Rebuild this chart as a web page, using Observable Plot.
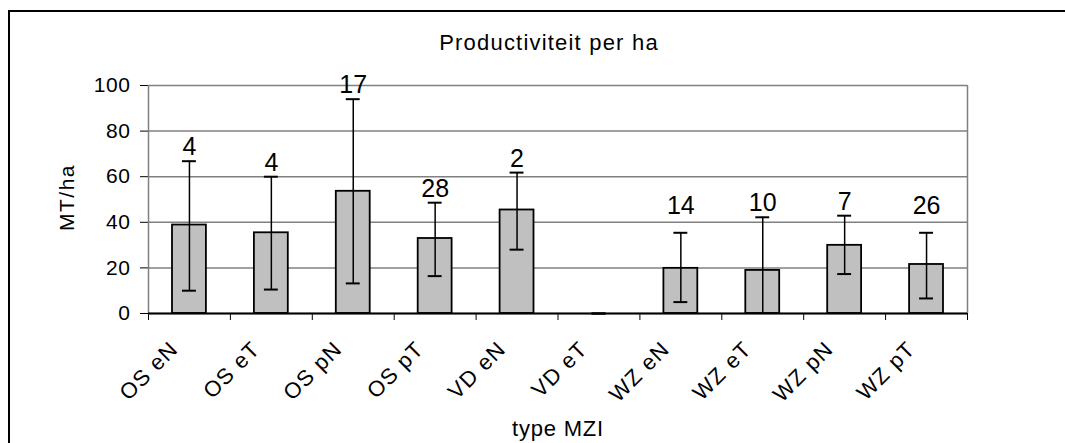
<!DOCTYPE html>
<html>
<head>
<meta charset="utf-8">
<script src="https://cdn.jsdelivr.net/npm/d3@7"></script>
<script src="https://cdn.jsdelivr.net/npm/@observablehq/plot@0.6"></script>
<style>
  html, body { margin: 0; padding: 0; background: #fff; overflow: hidden; }
  #wrap { position: relative; width: 1065px; height: 443px; }
  #chart { position: absolute; left: 0; top: 0; }
  #border { position: absolute; left: 8px; top: 10px; width: 1200px; height: 600px;
            border-left: 2px solid #000; border-top: 2px solid #000; pointer-events: none; }
</style>
</head>
<body>
<div id="wrap"><div id="chart"></div><div id="border"></div></div>
<script>
// ---- data ----
const categories = ["OS eN", "OS eT", "OS pN", "OS pT", "VD eN", "VD eT", "WZ eN", "WZ eT", "WZ pN", "WZ pT"];
const means      = [38.8, 35.4, 53.6, 32.9, 45.4, 0, 19.8, 18.9, 29.9, 21.5];
const errHigh    = [66.8, 60.0, 94.0, 48.6, 61.8, 0, 35.4, 42.2, 42.9, 35.4];
const errLow     = [10.0, 10.5, 13.2, 16.4, 28.0, 0, 5.0, -4.4, 17.3, 6.6];
const counts     = ["4", "4", "17", "28", "2", "", "14", "10", "7", "26"];
const yTicks     = [0, 20, 40, 60, 80, 100];
const titleText  = "Productiviteit per ha";
const xLabel     = "type MZI";
const yLabel     = "MT/ha";

const rows = categories.map((c, i) => ({cat: c, i, mean: means[i], hi: errHigh[i], lo: errLow[i], n: counts[i]}));
const caps = [];
rows.forEach(d => {
  caps.push({i: d.i, v: d.hi});
  if (d.lo >= 0) caps.push({i: d.i, v: d.lo});
});

const capHalf = 0.085;
const font = "'Liberation Sans', Arial, sans-serif";

const svg = Plot.plot({
  width: 1065,
  height: 443,
  marginLeft: 148,
  marginRight: 98,
  marginTop: 85,
  marginBottom: 130,
  style: {fontFamily: font, fontSize: "21px", background: "transparent", color: "#000"},
  x: {domain: [0, categories.length], ticks: d3.range(categories.length + 1), tickSize: 7,
      tickFormat: () => "", label: null},
  y: {domain: [0, 100], ticks: yTicks, tickSize: 8, tickPadding: 10, label: null},
  marks: [
    Plot.ruleY(yTicks, {y: d => d, stroke: "#808080", strokeWidth: 1.5}),
    Plot.ruleX([0, categories.length], {x: d => d, stroke: "#808080", strokeWidth: 1.5}),
    Plot.rect(rows.filter(d => d.mean > 0), {
      x1: d => d.i, x2: d => d.i + 1, y1: () => 0, y2: "mean",
      insetLeft: 24, insetRight: 24, fill: "#c0c0c0", stroke: "#000", strokeWidth: 1.8
    }),
    Plot.ruleX(rows, {x: d => d.i + 0.5, y1: d => Math.max(0, d.lo), y2: "hi", stroke: "#000", strokeWidth: 1.5}),
    Plot.ruleY(caps, {y: "v", x1: d => d.i + 0.5 - capHalf, x2: d => d.i + 0.5 + capHalf, stroke: "#000", strokeWidth: 2}),
    Plot.ruleY([0], {y: d => d, stroke: "#000", strokeWidth: 2}),
    Plot.text(rows.filter(d => d.n !== ""), {
      x: d => d.i + 0.5, y: d => Math.max(d.hi, 41), text: "n",
      dy: -6, lineAnchor: "bottom", fontSize: 25
    }),
    Plot.text(rows, {
      x: d => d.i + 0.5, y: () => 0, text: "cat", rotate: -45,
      textAnchor: "end", lineAnchor: "bottom", dx: -10, dy: 37, fontSize: 22
    }),
    Plot.text([titleText], {text: d => d, frameAnchor: "top", textAnchor: "middle", dx: -9, dy: -36, lineAnchor: "bottom", fontSize: 22}),
    Plot.text([xLabel], {text: d => d, frameAnchor: "bottom", textAnchor: "middle", dy: 122, lineAnchor: "bottom", fontSize: 22}),
    Plot.text([yLabel], {text: d => d, frameAnchor: "left", textAnchor: "middle", rotate: -90, dx: -75, dy: -2, lineAnchor: "bottom", fontSize: 21})
  ]
});
// widen the text a little, as in the original rendering
const spacing = new Map([
  ...categories.map(c => [c, "1.2px"]),
  [titleText, "1.2px"], [xLabel, "0.8px"], [yLabel, "1.5px"],
  ...yTicks.map(t => [String(t), "0.6px"])
]);
svg.querySelectorAll("text").forEach(t => {
  const s = spacing.get(t.textContent);
  if (s) t.style.letterSpacing = s;
});
document.getElementById("chart").appendChild(svg);
</script>
</body>
</html>
